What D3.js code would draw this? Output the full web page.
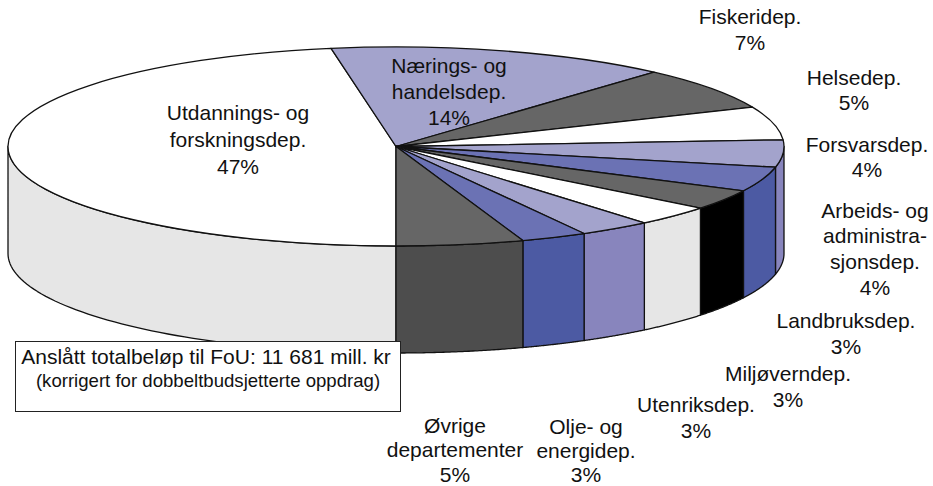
<!DOCTYPE html>
<html><head><meta charset="utf-8">
<style>html,body{margin:0;padding:0;background:#fff}svg{display:block}text{font-family:"Liberation Sans",Arial,sans-serif;fill:#111}</style>
<script src="https://cdn.jsdelivr.net/npm/d3@7"></script></head><body>
<script>
const categories = ["Utdannings- og forskningsdep.","Nærings- og handelsdep.","Fiskeridep.","Helsedep.","Forsvarsdep.","Arbeids- og administrasjonsdep.","Landbruksdep.","Miljøverndep.","Utenriksdep.","Olje- og energidep.","Øvrige departementer"];
const shares = [47.3,14.25,6.95,5.4,4.4,4.0,3.3,3.3,3.0,2.75,5.3];
const labelLines = [["Utdannings- og","forskningsdep.","47%"],["Nærings- og","handelsdep.","14%"],["Fiskeridep.","7%"],["Helsedep.","5%"],["Forsvarsdep.","4%"],["Arbeids- og","administra-","sjonsdep.","4%"],["Landbruksdep.","3%"],["Miljøverndep.","3%"],["Utenriksdep.","3%"],["Olje- og","energidep.","3%"],["Øvrige","departementer","5%"]];
const topColors = ["#ffffff","#a3a3cc","#666666","#ffffff","#a3a3cc","#6b72b4","#666666","#ffffff","#a3a3cc","#6b72b4","#666666"];
const sideColors = ["#e6e6e6","#8885bd","#4d4d4d","#e6e6e6","#8885bd","#4c5aa3","#000000","#e6e6e6","#8885bd","#4c5aa3","#4d4d4d"];
const noteLines = ["Anslått totalbeløp til FoU: 11 681 mill. kr","(korrigert for dobbeltbudsjetterte oppdrag)"];

const labelX = [238,449,750,854,867,875,846,788,696,586,455];
const labelY = [112,65,16,77,144,210,320,373,404,426,425];
const labelStep = [27,26,26,25,25,25.7,26,26,26,24,24.5];

const W=933,H=486,cx=396,cy=146.5,rx=388,ry=99.5,depth=107;
const svg=d3.select("body").append("svg").attr("width",W).attr("height",H);
const pie=d3.pie().sort(null).value(d=>d).startAngle(Math.PI).endAngle(3*Math.PI);
const arcs=pie(shares);
const px=a=>cx+rx*Math.sin(a), py=a=>cy-ry*Math.cos(a);
const line=d3.line();
const HALF=Math.PI/2;

const sides=svg.append("g");
arcs.forEach((d,i)=>{
  [[HALF,3*HALF],[HALF+2*Math.PI,3*HALF+2*Math.PI]].forEach(([lo,hi])=>{
    const a0=Math.max(d.startAngle,lo),a1=Math.min(d.endAngle,hi);
    if(a1<=a0)return;
    const as=d3.range(0,61).map(k=>a0+(a1-a0)*k/60);
    const pts=as.map(a=>[px(a),py(a)]).concat(as.slice().reverse().map(a=>[px(a),py(a)+depth]));
    sides.append("path").attr("d",line(pts)+"Z").attr("fill",sideColors[i]).attr("stroke","#111").attr("stroke-width",1.3).attr("stroke-linejoin","round");
  });
});

const arc=d3.arc().innerRadius(0).outerRadius(rx);
svg.append("g").attr("transform",`translate(${cx},${cy}) scale(1,${ry/rx})`)
  .selectAll("path").data(arcs).join("path").attr("d",arc)
  .attr("fill",(d,i)=>topColors[i]).attr("stroke","#111").attr("stroke-width",1.3)
  .attr("vector-effect","non-scaling-stroke").attr("stroke-linejoin","round");

labelLines.forEach((ls,i)=>{
  const t=svg.append("text").attr("text-anchor","middle").attr("font-size",21);
  ls.forEach((s,j)=>t.append("tspan").attr("x",labelX[i]).attr("y",labelY[i]+j*labelStep[i]).attr("dy","0.36em").text(s));
});

svg.append("rect").attr("x",15.5).attr("y",341.5).attr("width",385).attr("height",70).attr("fill","#fff").attr("stroke","#222").attr("stroke-width",1);
svg.append("text").attr("x",206).attr("y",356).attr("dy","0.36em").attr("text-anchor","middle").attr("font-size",21).text(noteLines[0]);
svg.append("text").attr("x",208).attr("y",380).attr("dy","0.36em").attr("text-anchor","middle").attr("font-size",18.6).text(noteLines[1]);
</script></body></html>
